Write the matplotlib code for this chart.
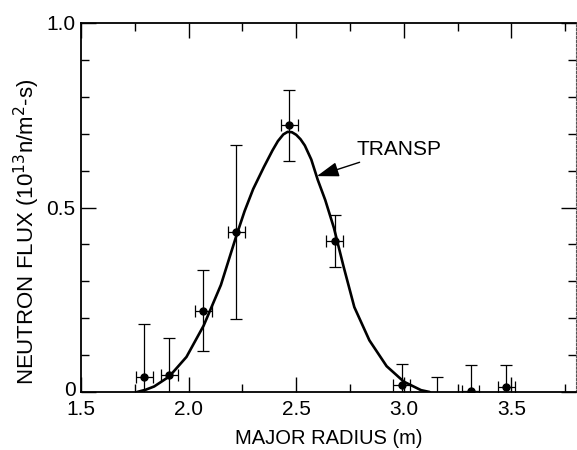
import matplotlib
matplotlib.use("Agg")
import matplotlib.pyplot as plt
from matplotlib.ticker import MultipleLocator, FixedLocator
from matplotlib.transforms import ScaledTranslation

plt.rcParams['font.family'] = ['Liberation Sans', 'DejaVu Sans']

# measured points
pt_x = [1.794, 1.911, 2.069, 2.221, 2.467, 2.678, 2.990, 3.154, 3.310, 3.477]
pt_y = [0.040, 0.045, 0.220, 0.434, 0.723, 0.409, 0.020, -0.030, 0.003, 0.013]
pt_yerr = [0.144, 0.100, 0.110, 0.235, 0.096, 0.070, 0.057, 0.071, 0.070, 0.060]
pt_xerr = [0.04, 0.04, 0.04, 0.04, 0.04, 0.04, 0.04, 0.0, 0.04, 0.04]

# TRANSP simulation curve
cur_x = [1.76, 1.80, 1.84, 1.91, 1.99, 2.07, 2.15, 2.22, 2.26, 2.30, 2.35, 2.39,
         2.415, 2.44, 2.46, 2.48, 2.50, 2.52, 2.54, 2.57, 2.60, 2.635, 2.675,
         2.72, 2.77, 2.84, 2.92, 3.00, 3.08, 3.12]
cur_y = [0.0, 0.006, 0.015, 0.042, 0.095, 0.18, 0.29, 0.42, 0.49, 0.55, 0.61, 0.655,
         0.680, 0.698, 0.705, 0.704, 0.697, 0.685, 0.668, 0.63, 0.575, 0.52, 0.445,
         0.34, 0.23, 0.14, 0.07, 0.028, 0.005, 0.0]

x_ticks = [1.5, 2.0, 2.5, 3.0, 3.5]
x_ticklabels = ["1.5", "2.0", "2.5", "3.0", "3.5"]
y_ticks = [0, 0.5, 1.0]
y_ticklabels = ["0", "0.5", "1.0"]

fig = plt.figure(figsize=(5.77, 4.5), dpi=100)
ax = fig.add_axes([81/577, 58/450, 495/577, 369/450])

ax.plot(cur_x, cur_y, color='black', lw=1.9, solid_capstyle='round',
        solid_joinstyle='round')
ax.errorbar(pt_x, pt_y, yerr=pt_yerr, xerr=pt_xerr, fmt='o', color='black',
            ms=5, elinewidth=0.9, capsize=4.5, capthick=0.9, clip_on=True)

ax.set_xlim(1.5, 3.8)
ax.set_ylim(0, 1.0)

ax.xaxis.set_major_locator(FixedLocator(x_ticks))
ax.set_xticklabels(x_ticklabels)
ax.xaxis.set_minor_locator(MultipleLocator(0.25))
ax.yaxis.set_major_locator(FixedLocator(y_ticks))
ax.set_yticklabels(y_ticklabels)
ax.yaxis.set_minor_locator(MultipleLocator(0.1))

ax.tick_params(which='both', direction='in', top=True, right=True, width=1.0,
               labelsize=15)
ax.tick_params(which='major', length=11)
ax.tick_params(which='minor', length=6)
ax.tick_params(axis='x', which='major', pad=6)
ax.tick_params(axis='y', which='major', pad=4)
# lift the "0" label slightly so it clears the x labels
for lbl in ax.get_yticklabels():
    if lbl.get_text() == "0":
        lbl.set_transform(lbl.get_transform() +
                          ScaledTranslation(0, 4/100, fig.dpi_scale_trans))

for s in ['left', 'bottom', 'top']:
    ax.spines[s].set_linewidth(1.3)
ax.spines['right'].set_linewidth(0.8)
ax.spines['right'].set_linestyle((0, (2, 1.5)))
ax.spines['right'].set_color('#555555')

ax.set_xlabel("MAJOR RADIUS (m)", fontsize=14.5, labelpad=7)
ax.set_ylabel(r"NEUTRON FLUX (10$^{13}$n/m$^{2}$-s)", fontsize=16)
ax.yaxis.set_label_coords(-0.079, 0.434)

ax.annotate("TRANSP", xy=(2.596, 0.585), xytext=(2.779, 0.657),
            fontsize=15, va='center', ha='left',
            arrowprops=dict(arrowstyle='-|>,head_length=0.9,head_width=0.3',
                            color='black', lw=1.0, shrinkA=1, shrinkB=0))

fig.savefig("out.png", dpi=100)
